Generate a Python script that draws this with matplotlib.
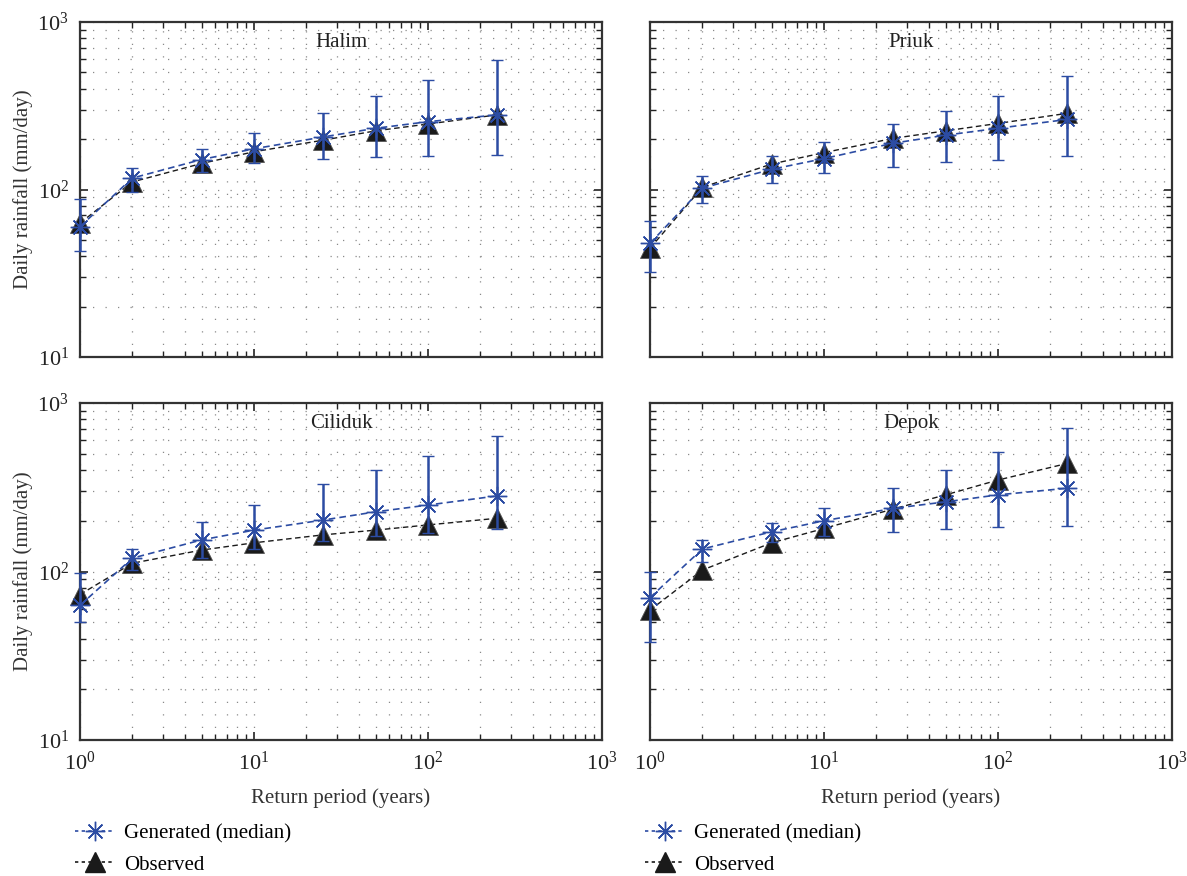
import matplotlib
matplotlib.use("Agg")
import matplotlib.pyplot as plt
from matplotlib.lines import Line2D
from matplotlib.ticker import LogLocator, NullFormatter

plt.rcParams['font.family'] = ['Liberation Serif', 'DejaVu Serif']
plt.rcParams['mathtext.fontset'] = 'stix'

# return periods (years)
periods = [1, 2, 5, 10, 25, 50, 100, 250]

stations = ["Halim", "Priuk", "Ciliduk", "Depok"]

# generated (median) and spread of the generated series
gen_halim = [60, 117, 151, 175, 206, 232, 254, 279]
lo_halim = [43, 97, 128, 144, 153, 157, 159, 161]
hi_halim = [88, 134, 175, 216, 285, 361, 451, 593]
obs_halim = [63, 111, 143, 168, 197, 224, 246, 279]

gen_priuk = [47.7, 102, 132, 153, 189, 211, 232, 262]
lo_priuk = [32, 83, 109, 125, 137, 145, 150, 159]
hi_priuk = [65, 121, 158, 191, 246, 295, 361, 476]
obs_priuk = [44.6, 103, 142, 166, 202, 224, 248, 285]

gen_ciliduk = [63, 120, 154, 176, 202, 226, 248, 281]
lo_ciliduk = [50, 102, 121, 136, 152, 163, 170, 178]
hi_ciliduk = [97.5, 136, 196, 248, 330, 400, 484, 637]
obs_ciliduk = [73, 112, 134, 148, 165, 176, 189, 207]

gen_depok = [70, 136, 172, 200, 237, 259, 285, 312]
lo_depok = [38, 114, 150, 163, 172, 178, 183, 185]
hi_depok = [100, 154, 195, 239, 314, 400, 514, 708]
obs_depok = [59, 102, 148, 180, 235, 285, 349, 438]

generated = [gen_halim, gen_priuk, gen_ciliduk, gen_depok]
lower = [lo_halim, lo_priuk, lo_ciliduk, lo_depok]
upper = [hi_halim, hi_priuk, hi_ciliduk, hi_depok]
observed = [obs_halim, obs_priuk, obs_ciliduk, obs_depok]

BLUE = '#2c4ca3'
DARK = '#1a1a1a'
STAR = (8, 2, 0)

fig = plt.figure(figsize=(11.87, 8.76), dpi=100)
W, H = 1187.0, 876.0
boxes = [(80, 22), (650, 22), (80, 403), (650, 403)]
axes = []
for k, (px, py) in enumerate(boxes):
    h = 335 if py == 22 else 337
    ax = fig.add_axes([px / W, 1 - (py + h) / H, 522 / W, h / H])
    axes.append(ax)

for k, ax in enumerate(axes):
    ax.set_xscale('log')
    ax.set_yscale('log')
    ax.set_xlim(1, 1000)
    ax.set_ylim(10, 1000)

    ax.plot(periods, observed[k], linestyle=(0, (4, 2.5)), color=DARK, lw=1.0,
            marker='^', markersize=14, markerfacecolor=DARK,
            markeredgecolor='#555555', markeredgewidth=0.6, zorder=3,
            clip_on=False)
    yerr = [[g - l for g, l in zip(generated[k], lower[k])],
            [u - g for g, u in zip(generated[k], upper[k])]]
    ax.errorbar(periods, generated[k], yerr=yerr, linestyle=(0, (4, 2.5)),
                color=BLUE, lw=1.2, elinewidth=1.8, capsize=4.5, capthick=1.8,
                marker=STAR, markersize=14, markeredgewidth=1.0,
                zorder=4, clip_on=False)

    ax.text(0.5, 0.94, stations[k], transform=ax.transAxes, ha='center',
            va='center', fontsize=15, color='#222222')

    ax.xaxis.set_major_locator(LogLocator(base=10, numticks=10))
    ax.yaxis.set_major_locator(LogLocator(base=10, numticks=10))
    ax.xaxis.set_minor_locator(LogLocator(base=10, subs=range(2, 10), numticks=20))
    ax.yaxis.set_minor_locator(LogLocator(base=10, subs=range(2, 10), numticks=20))
    ax.xaxis.set_minor_formatter(NullFormatter())
    ax.yaxis.set_minor_formatter(NullFormatter())

    ax.grid(True, which='both', linestyle=(0, (1, 9)), color='#8a8a8a', lw=0.9)
    ax.tick_params(which='both', direction='in', top=True, right=True,
                   labelsize=16, colors='#222222')
    ax.tick_params(which='major', length=6, width=1.2, pad=8)
    ax.tick_params(which='minor', length=4, width=1.0)
    for s in ax.spines.values():
        s.set_linewidth(1.6)
        s.set_color('#333333')

    if k % 2 == 1:
        ax.set_yticklabels([])
    else:
        ax.set_ylabel('Daily rainfall (mm/day)', fontsize=15, color='#333333',
                      labelpad=3)
    if k < 2:
        ax.set_xticklabels([])
    else:
        ax.set_xlabel('Return period (years)', fontsize=15, color='#333333',
                      labelpad=10)
        handles = [
            Line2D([], [], color=BLUE, linestyle=(0, (2, 2)), lw=1.2,
                   marker=STAR, markersize=14, markeredgewidth=1.0),
            Line2D([], [], color=DARK, linestyle=(0, (2, 2)), lw=1.2,
                   marker='^', markersize=14, markerfacecolor=DARK),
        ]
        ax.legend(handles, ['Generated (median)', 'Observed'],
                  loc='upper left', bbox_to_anchor=(-0.025, -0.225),
                  frameon=False, fontsize=15, handlelength=1.9,
                  handletextpad=0.45, labelspacing=0.55, borderaxespad=0)

fig.savefig('out.png', dpi=100)
